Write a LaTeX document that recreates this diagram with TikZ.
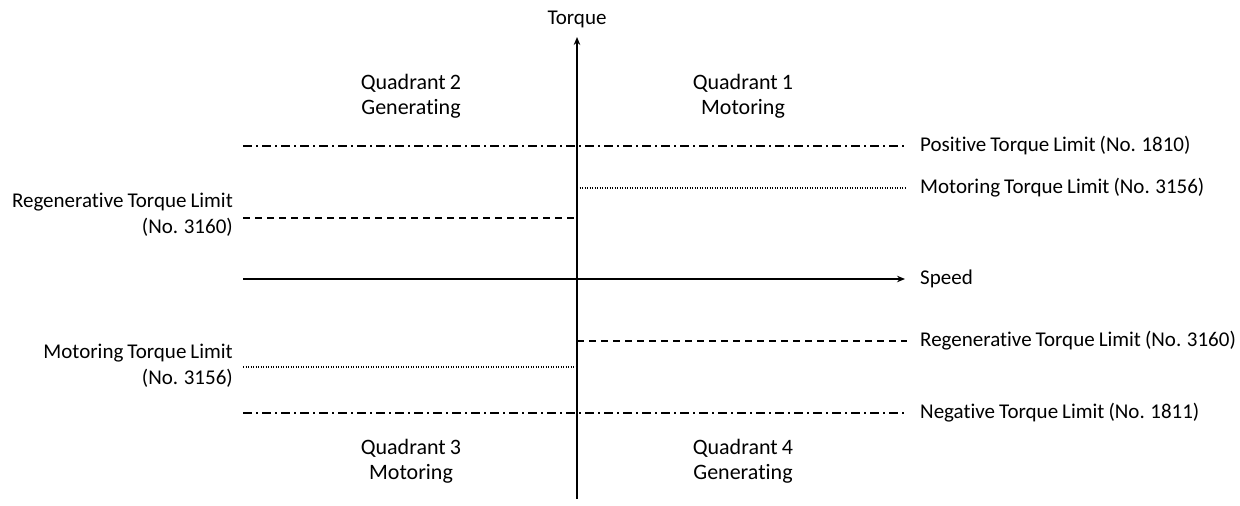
\documentclass[tikz,border=0pt]{standalone}
\usepackage{fontspec}
\setmainfont{Carlito}[Ligatures=NoCommon, WordSpace=0.85]
\usetikzlibrary{calc,arrows.meta}

\begin{document}
\begin{tikzpicture}[x=1pt, y=-1pt, >={Stealth[length=8pt,width=6.5pt]},
  lbl/.style={font=\fontsize{21}{25}\selectfont, inner sep=0pt},
  quad/.style={lbl, align=center, font=\fontsize{22}{25}\selectfont},
  axis/.style={line width=1.6pt},
  dashdot/.style={line width=1.2pt, dash pattern=on 9pt off 4pt on 2pt off 4pt},
  dashln/.style={line width=1.2pt, dash pattern=on 7pt off 5pt},
  dots/.style={line width=1.2pt, dash pattern=on 1pt off 1.5pt}]

\useasboundingbox (0,0) rectangle (1240,506);

% Parameters
\def\xo{577}     % torque axis
\def\yo{279}     % speed axis
\def\xl{243}     % left end of lines
\def\xr{907}     % right end of lines

% Axes
\coordinate (Tbot) at (\xo,499);
\coordinate (Ttop) at (\xo,37);
\coordinate (Sleft) at (\xl,\yo);
\coordinate (Sright) at (905,\yo);
\node[lbl, anchor=base] (torque) at (\xo,24) {Torque};
\node[lbl, anchor=west] (speed) at (920,\yo) {Speed};
\draw[axis, ->] (Tbot) -- (Ttop);
\draw[axis, ->] (Sleft) -- (Sright);

% Quadrant labels
\node[quad] (q2) at (411,96) {Quadrant 2\\Generating};
\node[quad] (q1) at (743,96) {Quadrant 1\\Motoring};
\node[quad] (q3) at (411,461) {Quadrant 3\\Motoring};
\node[quad] (q4) at (743,461) {Quadrant 4\\Generating};

% Positive torque limit
\coordinate (posL) at (\xl,146);
\coordinate (posR) at (\xr,146);
\node[lbl, anchor=west] (poslim) at (920,146) {Positive Torque Limit (No. 1810)};
\draw[dashdot] (posL) -- (posR);

% Motoring torque limit, quadrant 1
\coordinate (motL) at (\xo,188);
\coordinate (motR) at (\xr,188);
\node[lbl, anchor=west] (motlim) at (920,188) {Motoring Torque Limit (No. 3156)};
\draw[dots] (motL) -- (motR);

% Regenerative torque limit, quadrant 2
\coordinate (regL) at (\xl,218);
\coordinate (regR) at (\xo,218);
\node[lbl, anchor=east, align=right, font=\fontsize{21}{26}\selectfont] (reglimL) at (233,215) {Regenerative Torque Limit\\(No. 3160)};
\draw[dashln] (regL) -- (regR);

% Regenerative torque limit, quadrant 4
\coordinate (regL4) at (\xo,341);
\coordinate (regR4) at (\xr,341);
\node[lbl, anchor=west] (reglimR) at (920,341) {Regenerative Torque Limit (No. 3160)};
\draw[dashln] (regL4) -- (regR4);

% Motoring torque limit, quadrant 3
\coordinate (motL3) at (\xl,367);
\coordinate (motR3) at (\xo,367);
\node[lbl, anchor=east, align=right, font=\fontsize{21}{26}\selectfont] (motlimL) at (233,366) {Motoring Torque Limit\\(No. 3156)};
\draw[dots] (motL3) -- (motR3);

% Negative torque limit
\coordinate (negL) at (\xl,413);
\coordinate (negR) at (\xr,413);
\node[lbl, anchor=west] (neglim) at (920,413) {Negative Torque Limit (No. 1811)};
\draw[dashdot] (negL) -- (negR);

\end{tikzpicture}
\end{document}
